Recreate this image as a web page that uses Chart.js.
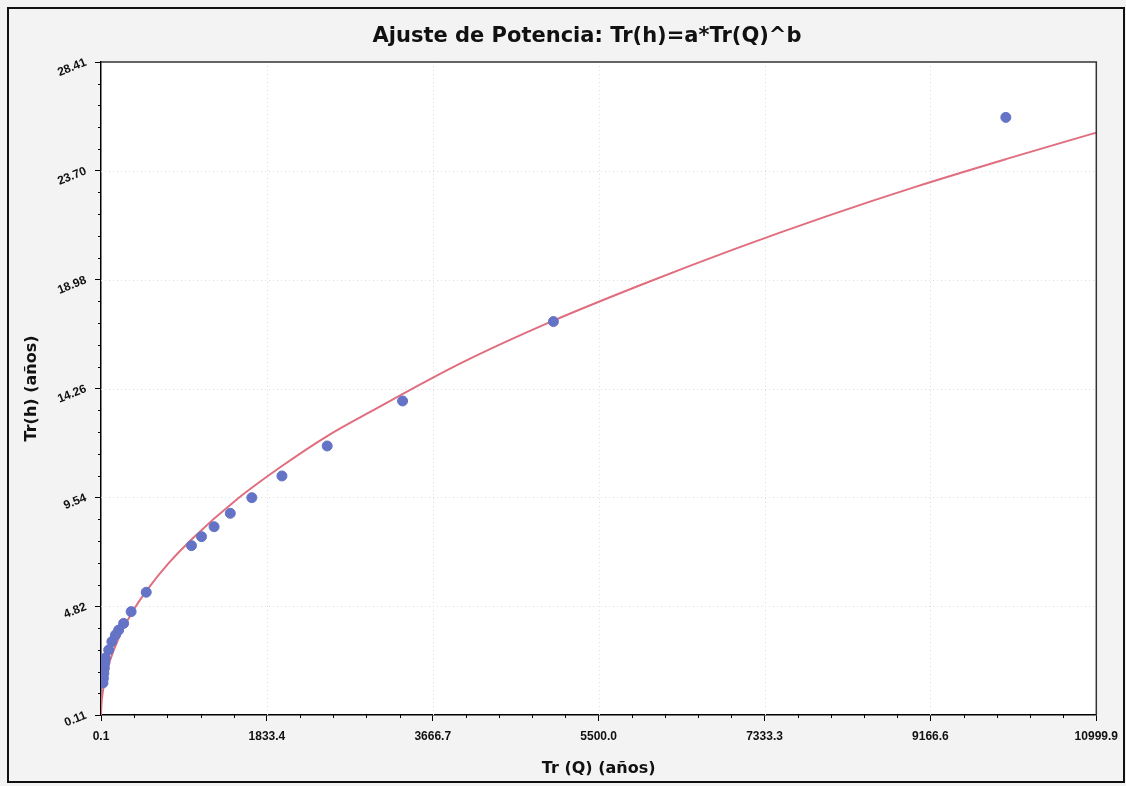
<!DOCTYPE html>
<html>
<head>
<meta charset="utf-8">
<title>Ajuste de Potencia</title>
<script src="https://cdn.jsdelivr.net/npm/chart.js@4.4.0/dist/chart.umd.min.js"></script>
<style>
  body { margin: 0; background: #f3f3f3; }
  #wrap { width: 1126px; height: 786px; position: relative; }
</style>
</head>
<body>
<div id="wrap"><canvas id="myChart"></canvas></div>
<script>
// Puntos observados: Tr(Q) vs Tr(h)
const trQ = [10000, 5000, 3333, 2500, 2000, 1667, 1429, 1250, 1111, 1000, 500, 333, 250, 195, 160, 120, 85, 48, 42, 37, 32, 27, 22]
const trH = [26.01, 17.16, 13.72, 11.77, 10.47, 9.53, 8.85, 8.27, 7.84, 7.45, 5.43, 4.59, 4.08, 3.79, 3.58, 3.29, 2.93, 2.58, 2.36, 2.14, 1.92, 1.70, 1.50]

// Curva de ajuste
const curvaX = [0.1, 5, 20, 50, 100, 200, 350, 500, 750, 1000, 1500, 2000, 2500, 3000, 4000, 5000, 6000, 7000, 8000, 9000, 10000, 10999.9]
const curvaY = [0.11, 0.56, 1.11, 1.75, 2.47, 3.49, 4.60, 5.48, 6.70, 7.72, 9.45, 10.9, 12.2, 13.3, 15.4, 17.2, 18.8, 20.3, 21.7, 23.0, 24.2, 25.35]

// Ticks de los ejes
const xTicks = [0.1, 1833.4, 3666.7, 5500.0, 7333.3, 9166.6, 10999.9]
const xTickLabels = ['0.1', '1833.4', '3666.7', '5500.0', '7333.3', '9166.6', '10999.9']
const yTicks = [0.11, 4.82, 9.54, 14.26, 18.98, 23.70, 28.41]
const yTickLabels = ['0.11', '4.82', '9.54', '14.26', '18.98', '23.70', '28.41']

const fuente = "'Liberation Sans', Arial, sans-serif"
const fuenteTit = "'DejaVu Sans', Verdana, sans-serif"

const puntos = trQ.map((x, i) => ({ x: x, y: trH[i] }))
const curva = curvaX.map((x, i) => ({ x: x, y: curvaY[i] }))

// fondo blanco del area, grilla punteada, ticks menores y marcos
const marcos = {
  id: 'marcos',
  afterLayout(chart) {
    // el titulo del original esta algo corrido a la derecha
    if (chart.titleBlock) chart.titleBlock.left = 74
  },
  beforeDatasetsDraw(chart) {
    const { ctx, chartArea: a, scales } = chart
    ctx.save()
    ctx.strokeStyle = '#dedede'
    ctx.lineWidth = 1
    ctx.setLineDash([1, 3])
    yTicks.slice(1, -1).forEach(v => {
      const y = Math.round(scales.y.getPixelForValue(v)) + 0.5
      ctx.beginPath(); ctx.moveTo(a.left, y); ctx.lineTo(a.right, y); ctx.stroke()
    })
    xTicks.slice(1, -1).forEach(v => {
      const x = Math.round(scales.x.getPixelForValue(v)) + 0.5
      ctx.beginPath(); ctx.moveTo(x, a.top); ctx.lineTo(x, a.bottom); ctx.stroke()
    })
    ctx.restore()
  },
  beforeDraw(chart) {
    const { ctx, chartArea: a } = chart
    ctx.save()
    ctx.fillStyle = '#ffffff'
    ctx.fillRect(a.left, a.top, a.right - a.left, a.bottom - a.top)
    ctx.restore()
  },
  afterDraw(chart) {
    const { ctx, chartArea: a, scales } = chart
    ctx.save()
    ctx.strokeStyle = '#000'
    ctx.lineWidth = 1
    // ticks menores
    for (let i = 0; i < xTicks.length - 1; i++) {
      for (let k = 1; k < 5; k++) {
        const v = xTicks[i] + (xTicks[i + 1] - xTicks[i]) * k / 5
        const x = Math.round(scales.x.getPixelForValue(v)) + 0.5
        ctx.beginPath(); ctx.moveTo(x, a.bottom); ctx.lineTo(x, a.bottom + 3); ctx.stroke()
      }
    }
    for (let i = 0; i < yTicks.length - 1; i++) {
      for (let k = 1; k < 5; k++) {
        const v = yTicks[i] + (yTicks[i + 1] - yTicks[i]) * k / 5
        const y = Math.round(scales.y.getPixelForValue(v)) + 0.5
        ctx.beginPath(); ctx.moveTo(a.left, y); ctx.lineTo(a.left - 3, y); ctx.stroke()
      }
    }
    // borde superior y derecho del area
    ctx.strokeStyle = '#333'
    ctx.lineWidth = 1.5
    ctx.beginPath()
    ctx.moveTo(a.left, a.top); ctx.lineTo(a.right, a.top); ctx.lineTo(a.right, a.bottom)
    ctx.stroke()
    // marco exterior
    ctx.strokeStyle = '#111'
    ctx.lineWidth = 2
    ctx.strokeRect(8, 8, 1116, 774)
    ctx.restore()
  }
}

const ctx = document.getElementById('myChart')

new Chart(ctx, {
  type: 'scatter',
  data: {
    datasets: [
      {
        label: 'Datos',
        data: puntos,
        backgroundColor: '#6473c6',
        borderColor: '#6473c6',
        pointRadius: 5,
        pointHoverRadius: 5
      },
      {
        label: 'Ajuste',
        type: 'line',
        data: curva,
        showLine: true,
        borderColor: '#e06e7e',
        borderWidth: 2,
        pointRadius: 0,
        cubicInterpolationMode: 'monotone',
        fill: false
      }
    ]
  },
  options: {
    responsive: true,
    maintainAspectRatio: false,
    animation: false,
    layout: { padding: { top: 0, right: 26, bottom: 0, left: 0 } },
    plugins: {
      legend: { display: false },
      tooltip: { enabled: false },
      title: {
        display: true,
        text: 'Ajuste de Potencia: Tr(h)=a*Tr(Q)^b',
        color: '#111',
        font: { family: fuenteTit, size: 21, weight: 'bold' },
        padding: { top: 24, bottom: 12.8 }
      }
    },
    scales: {
      x: {
        type: 'linear',
        min: 0.1,
        max: 10999.9,
        afterBuildTicks: s => { s.ticks = xTicks.map(v => ({ value: v })) },
        afterFit: s => { s.height = 71 },
        ticks: {
          callback: (v, i) => xTickLabels[i],
          color: '#111',
          font: { family: fuente, size: 12, weight: 'bold' },
          padding: 8,
          maxRotation: 0,
          minRotation: 0
        },
        grid: { drawOnChartArea: false, drawTicks: true, tickLength: 6, color: '#000' },
        border: { color: '#000', width: 1.5 },
        title: {
          display: true,
          text: 'Tr (Q) (años)',
          color: '#111',
          font: { family: fuenteTit, size: 16, weight: 'bold' },
          padding: { top: 4, bottom: 8 }
        }
      },
      y: {
        type: 'linear',
        min: 0.11,
        max: 28.41,
        afterBuildTicks: s => { s.ticks = yTicks.map(v => ({ value: v })) },
        afterFit: s => { s.width = 101 },
        ticks: {
          callback: (v, i) => yTickLabels[i],
          color: '#111',
          font: { family: fuente, size: 12, weight: 'bold' },
          padding: 9,
          minRotation: 22,
          maxRotation: 22
        },
        grid: { drawOnChartArea: false, drawTicks: true, tickLength: 6, color: '#000' },
        border: { color: '#000', width: 1.5 },
        title: {
          display: true,
          text: 'Tr(h) (años)',
          color: '#111',
          font: { family: fuenteTit, size: 16, weight: 'bold' },
          padding: { top: 22, bottom: 4 }
        }
      }
    }
  },
  plugins: [marcos]
})
</script>
</body>
</html>
